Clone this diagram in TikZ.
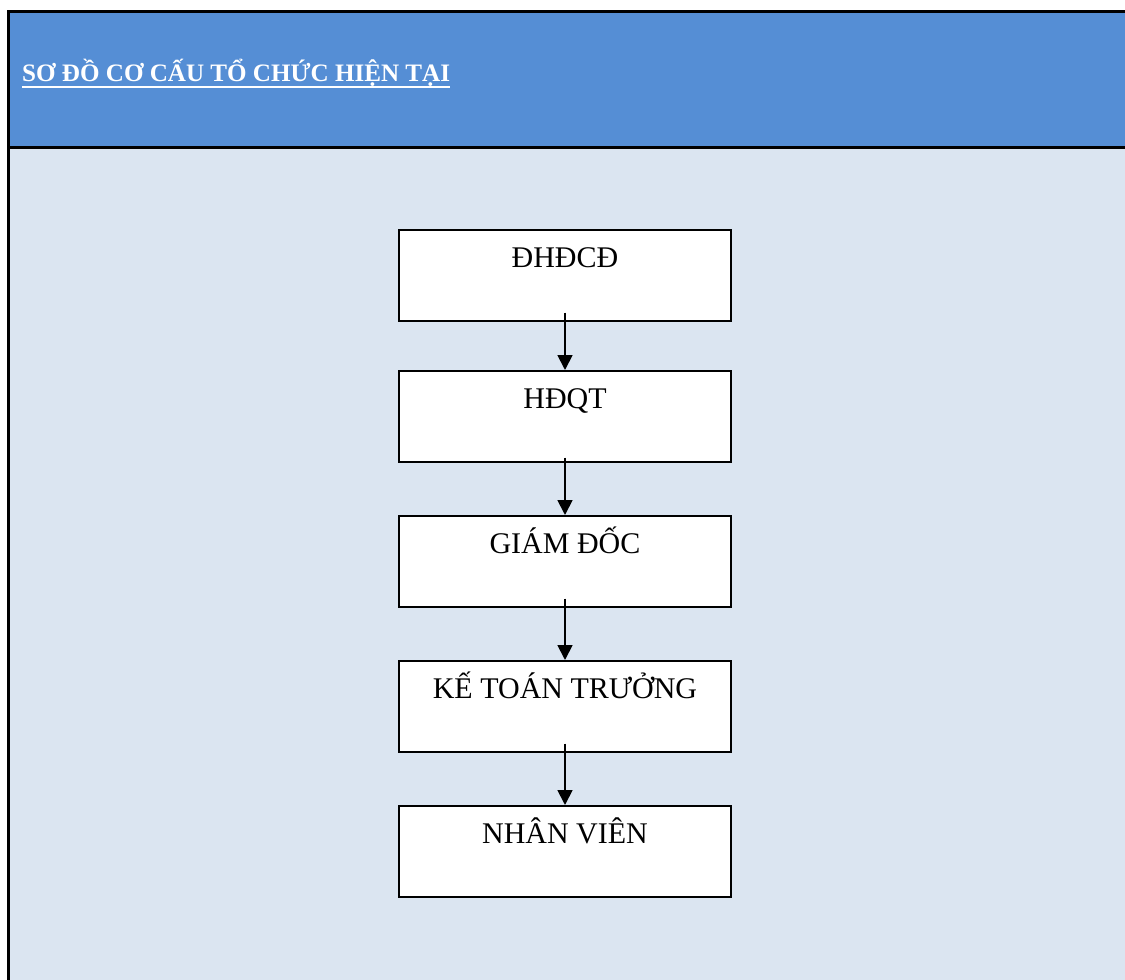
\documentclass[tikz,border=0pt]{standalone}
\usepackage{fontspec}
\setmainfont{Liberation Serif}
\usetikzlibrary{arrows.meta,calc}
\definecolor{headblue}{HTML}{558ED5}
\definecolor{bodyblue}{HTML}{DBE5F1}
\tikzset{
  orgbox/.style={draw=black, line width=1.6pt, fill=white, minimum width=332pt, minimum height=91pt,
    inner sep=0pt, text height=20pt, text depth=36pt, font=\fontsize{30}{32}\selectfont},
  orgarrow/.style={line width=1.8pt, -{Triangle[width=15pt,length=15pt]}}
}
\begin{document}
\begin{tikzpicture}[x=1pt,y=1pt]
\useasboundingbox (0,0) rectangle (1125,-980);
\fill[white] (0,0) rectangle (1125,-980);
\fill[headblue] (8,-11) rectangle (1125,-147.5);
\fill[bodyblue] (8,-147.5) rectangle (1125,-980);
\draw[line width=3pt] (8,-980) -- (8,-11) -- (1125,-11);
\draw[line width=3pt] (8,-147.5) -- (1125,-147.5);
\node[anchor=base west, inner sep=0pt, text=white, font=\fontsize{25.1}{28}\selectfont\bfseries] (title) at (22,-81.5) {SƠ ĐỒ CƠ CẤU TỔ CHỨC HIỆN TẠI};
\draw[white, line width=2pt] ([yshift=-5pt]title.base west) -- ([yshift=-5pt]title.base east);
\node[orgbox, anchor=north] (b1) at (565,-229) {ĐHĐCĐ};
\node[orgbox, anchor=north] (b2) at (565,-370) {HĐQT};
\node[orgbox, anchor=north] (b3) at (565,-515) {GIÁM ĐỐC};
\node[orgbox, anchor=north] (b4) at (565,-660) {KẾ TOÁN TRƯỞNG};
\node[orgbox, anchor=north] (b5) at (565,-805) {NHÂN VIÊN};
\draw[orgarrow] ($(b1.south)+(0,9)$) -- (b2.north);
\draw[orgarrow] ($(b2.south)+(0,5)$) -- (b3.north);
\draw[orgarrow] ($(b3.south)+(0,9)$) -- (b4.north);
\draw[orgarrow] ($(b4.south)+(0,9)$) -- (b5.north);
\end{tikzpicture}
\end{document}
